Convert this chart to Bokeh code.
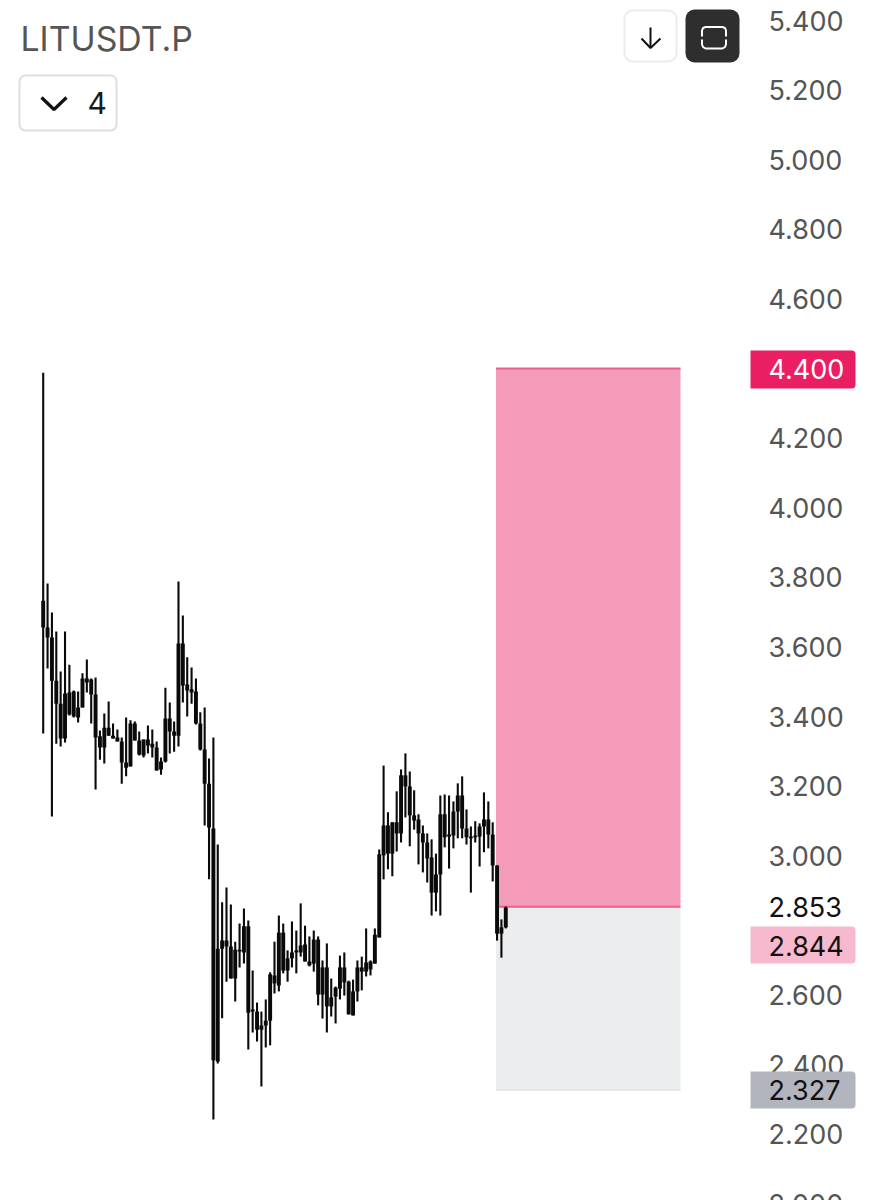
from bokeh.plotting import figure
from bokeh.embed import file_html
from bokeh.resources import INLINE
from bokeh.models import Range1d, FixedTicker, NumeralTickFormatter, Label, ColumnDataSource

symbol = "LITUSDT.P"
interval_label = "4"

highs = [4.388,3.782,3.699,3.644,3.529,3.644,3.549,3.475,3.472,3.524,3.564,3.509,3.512,3.360,3.409,3.443,3.380,3.363,3.340,3.397,
3.389,3.386,3.357,3.334,3.374,3.363,3.328,3.282,3.483,3.440,3.386,3.788,3.690,3.570,3.541,3.509,3.412,3.426,3.279,3.340,
3.032,2.866,2.909,2.860,2.753,2.805,2.848,2.814,2.670,2.578,2.552,2.587,2.665,2.753,2.828,2.805,2.728,2.811,2.785,2.863,
2.799,2.768,2.785,2.768,2.699,2.748,2.647,2.624,2.713,2.722,2.641,2.644,2.699,2.710,2.791,2.699,2.791,3.018,3.259,3.125,
3.096,3.185,3.248,3.294,3.242,3.188,3.119,3.087,3.064,3.047,3.006,3.173,3.176,3.173,3.156,3.208,3.228,3.133,3.084,3.099,
3.093,3.182,3.156,3.096,2.972,2.817,2.854]
lows = [3.351,3.538,3.113,3.322,3.314,3.325,3.403,3.397,3.383,3.426,3.469,3.380,3.190,3.276,3.265,3.345,3.337,3.328,3.207,3.228,
3.256,3.331,3.288,3.282,3.294,3.282,3.245,3.233,3.268,3.294,3.299,3.314,3.440,3.400,3.437,3.377,3.302,3.087,2.932,2.242,
2.403,2.533,2.638,2.647,2.581,2.679,2.690,2.443,2.492,2.466,2.337,2.449,2.455,2.604,2.610,2.662,2.638,2.679,2.662,2.710,
2.696,2.682,2.667,2.570,2.532,2.492,2.538,2.518,2.587,2.598,2.544,2.541,2.581,2.613,2.653,2.656,2.690,2.765,2.932,2.961,
2.941,3.012,3.038,3.110,3.027,3.075,2.975,2.952,2.923,2.828,2.840,2.828,3.024,2.963,3.021,3.050,3.050,3.032,2.894,3.038,
2.969,3.010,3.021,2.926,2.756,2.707,2.791]
body_top = [3.733,3.656,3.627,3.503,3.437,3.466,3.469,3.472,3.426,3.509,3.509,3.506,3.463,3.343,3.368,3.368,3.345,3.340,3.328,3.268,
3.380,3.380,3.331,3.334,3.334,3.322,3.311,3.271,3.394,3.394,3.357,3.610,3.610,3.492,3.478,3.472,3.380,3.305,3.207,3.078,
2.733,2.756,2.756,2.739,2.730,2.730,2.797,2.797,2.558,2.552,2.512,2.526,2.659,2.656,2.779,2.779,2.705,2.722,2.728,2.742,
2.745,2.696,2.759,2.759,2.679,2.679,2.593,2.621,2.679,2.679,2.638,2.610,2.679,2.679,2.693,2.696,2.773,3.004,3.087,3.087,
3.096,3.096,3.231,3.231,3.199,3.116,3.104,3.064,3.038,2.995,2.946,3.119,3.119,3.061,3.127,3.173,3.173,3.078,3.055,3.058,
3.084,3.104,3.104,3.061,2.972,2.794,2.851]
body_bottom = [3.656,3.627,3.503,3.437,3.337,3.337,3.406,3.400,3.397,3.426,3.498,3.463,3.340,3.311,3.311,3.345,3.337,3.328,3.268,3.253,
3.256,3.331,3.291,3.288,3.317,3.311,3.245,3.248,3.271,3.357,3.345,3.345,3.489,3.475,3.469,3.380,3.305,3.207,3.081,2.412,
2.409,2.733,2.739,2.647,2.647,2.725,2.722,2.549,2.552,2.500,2.500,2.512,2.526,2.633,2.627,2.670,2.670,2.705,2.722,2.722,
2.696,2.685,2.690,2.601,2.601,2.567,2.567,2.595,2.618,2.636,2.544,2.541,2.610,2.667,2.667,2.673,2.690,2.765,3.001,3.006,
3.006,3.064,3.064,3.199,3.116,3.101,3.064,3.038,2.992,2.894,2.894,2.946,3.053,3.055,3.058,3.127,3.078,3.053,3.050,3.053,
3.055,3.084,3.061,2.972,2.776,2.776,2.794]

stop_price = 4.400
entry_price = 2.853
target_price = 2.327
last_price = 2.844
tick_values = [2.2,2.4,2.6,3.0,3.2,3.4,3.6,3.8,4.0,4.2,4.6,4.8,5.0,5.2,5.4]
clipped_tick = 2.0

idx = list(range(len(highs)))
src = ColumnDataSource(dict(i=idx, h=highs, l=lows, t=body_top, b=body_bottom))

FONT = "Inter"
TICK_SIZE = "27px"
ref = lambda px: 5.4575 - px / 348
slot = lambda px: (px - 42.7) / 4.364

p = figure(frame_width=877, frame_height=1200, output_backend="svg", toolbar_location=None,
           x_axis_location=None, y_axis_location="right",
           x_range=Range1d(slot(0), slot(877)), y_range=Range1d(ref(1200), ref(0)),
           min_border=0, outline_line_color=None, background_fill_color="white", border_fill_color="white")
p.grid.visible = False
p.extra_x_ranges["ui"] = Range1d(0, 877)
p.extra_y_ranges["ui"] = Range1d(1200, 0)

ax = p.yaxis[0]
ax.fixed_location = slot(760)
ax.ticker = FixedTicker(ticks=tick_values)
ax.formatter = NumeralTickFormatter(format="0.000")
ax.axis_line_color = None
ax.major_tick_line_color = None
ax.minor_tick_line_color = None
ax.major_tick_in = 0
ax.major_tick_out = 0
ax.major_label_text_font = FONT
ax.major_label_text_font_size = TICK_SIZE
ax.major_label_text_color = "#555555"
ax.major_label_standoff = 8

# position tool
left_i, right_i = slot(495.5), slot(680)
p.quad(left=left_i, right=right_i, top=stop_price, bottom=entry_price, fill_color="#f49bba", line_color=None)
p.quad(left=left_i, right=right_i, top=entry_price, bottom=target_price, fill_color="#ecedee", line_color=None)
p.segment(x0=[left_i, left_i], x1=[right_i, right_i], y0=[stop_price, entry_price], y1=[stop_price, entry_price],
          line_color="#ea5f8c", line_width=2)
p.segment(x0=[left_i], x1=[right_i], y0=[target_price], y1=[target_price], line_color="#e1e3e6", line_width=1.5)

# candles
p.segment(x0="i", x1="i", y0="l", y1="h", source=src, line_color="#0a0a0a", line_width=2.1)
p.vbar(x="i", width=0.9, top="t", bottom="b", source=src, fill_color="#0a0a0a", line_color=None)

# ui controls
ui = dict(x_range_name="ui", y_range_name="ui")
p.quad(left=[19], right=[116], top=[75], bottom=[130], fill_color="white", line_color="#dedede", line_width=2, border_radius=6, **ui)
p.quad(left=[624], right=[676], top=[10], bottom=[61], fill_color="white", line_color="#ececec", line_width=2, border_radius=8, **ui)
p.quad(left=[685], right=[739], top=[9], bottom=[62], fill_color="#2e2e2e", line_color=None, border_radius=9, **ui)
p.multi_line(xs=[[41, 53.5, 66]], ys=[[97, 109, 97]], line_color="#111111", line_width=3.2, **ui)
p.multi_line(xs=[[650, 650], [641, 650, 660]], ys=[[27, 47.5], [38, 47.5, 38]], line_color="#111111", line_width=2, **ui)
p.multi_line(xs=[[701.5, 701.5, 702.5, 705, 722, 724.5, 725.5, 725.5], [701.5, 701.5, 702.5, 705, 722, 724.5, 725.5, 725.5]],
             ys=[[36, 30, 27.5, 26.5, 26.5, 27.5, 30, 36], [39, 44, 46.5, 48, 48, 46.5, 44, 39]],
             line_color="white", line_width=2, **ui)

def ui_text(x, y, text, size, color):
    p.add_layout(Label(x=x, y=y, text=text, text_font=FONT, text_font_size=size, text_color=color,
                       text_baseline="middle", text_align="left", **ui))

ui_text(20, 38, symbol, "33.8px", "#555555")
ui_text(87, 102.5, interval_label, "30px", "#1a1a1a")

def tag(price, text, color, bg, top_px, bottom_px):
    if bg is not None:
        p.quad(left=[750], right=[855], top=[top_px], bottom=[bottom_px], fill_color=bg, line_color=None,
               border_radius=(0, 4, 4, 0), level="annotation", **ui)
    p.add_layout(Label(x=768, y=price, x_range_name="ui", text=text, text_font=FONT, text_font_size=TICK_SIZE,
                       text_color=color, text_baseline="middle", text_align="left"))

tag(clipped_tick, f"{clipped_tick:.3f}", "#555555", None, 0, 0)
tag(stop_price, f"{stop_price:.3f}", "white", "#e91e63", 350, 388)
tag(entry_price, f"{entry_price:.3f}", "#111111", None, 0, 0)
tag(ref(945), f"{last_price:.3f}", "#111111", "#f6b9cd", 926, 963)
tag(target_price, f"{target_price:.3f}", "#111111", "#b2b5be", 1071, 1108)

open("out.html", "w").write(file_html(p, INLINE))
